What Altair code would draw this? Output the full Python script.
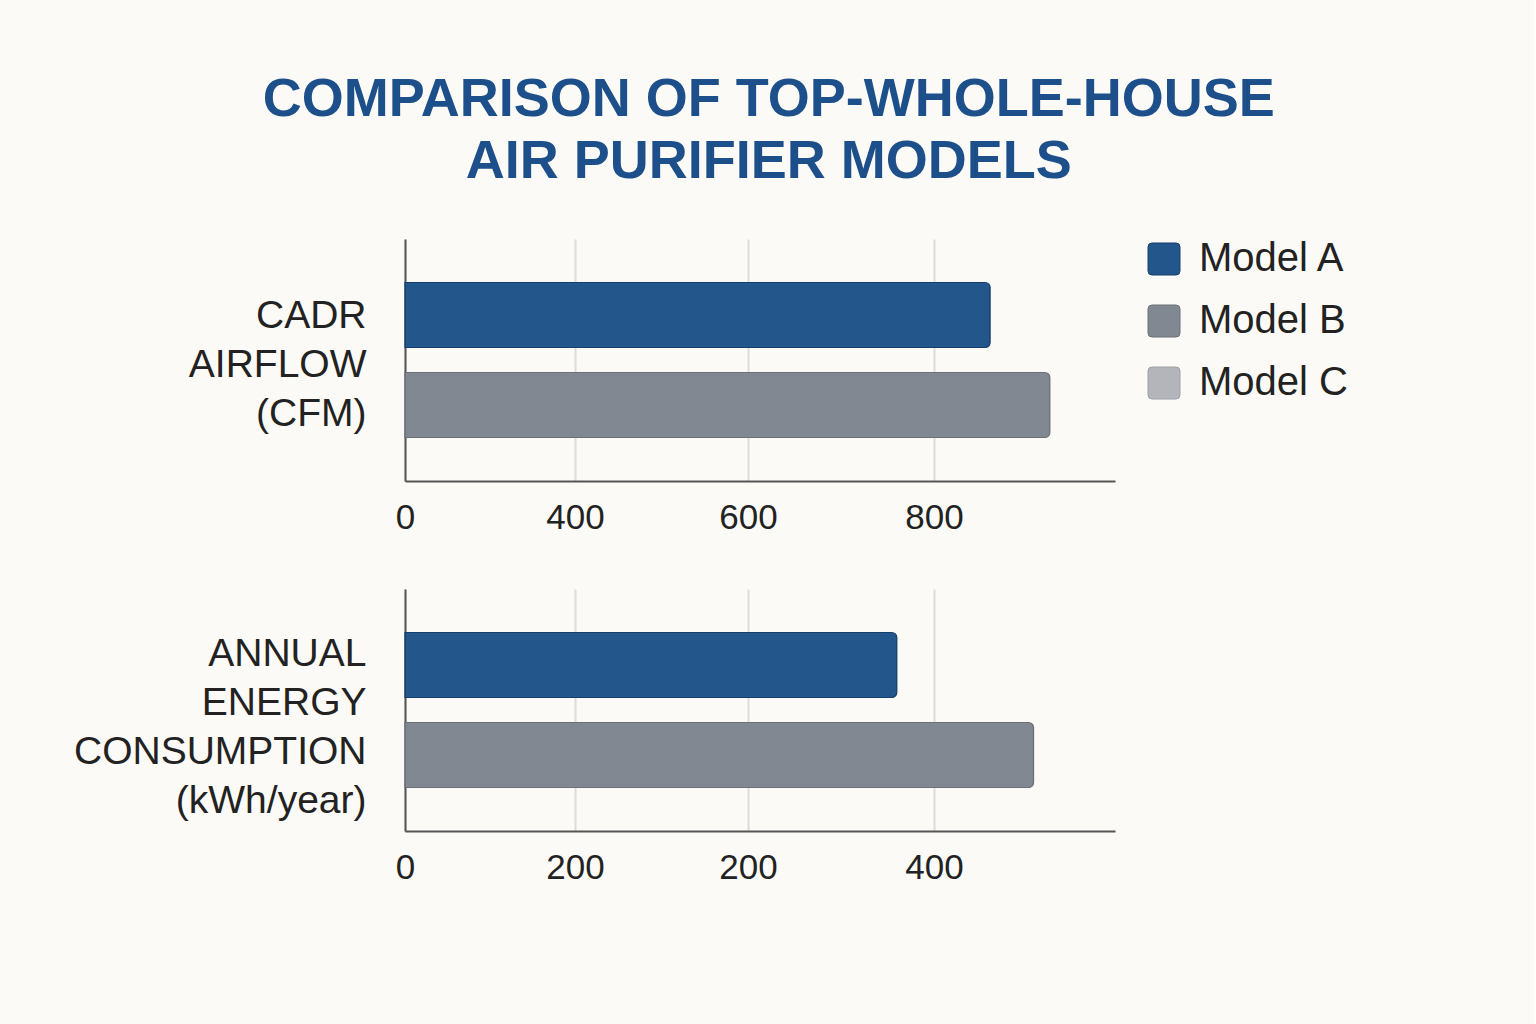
import altair as alt
import pandas as pd

models = ["Model A", "Model B"]
legend_models = ["Model A", "Model B", "Model C"]
cadr_values = [862, 928]
energy_values = [380, 455]

cadr_ticks = [0, 400, 600, 800]
energy_ticks = [0, 200, 300, 400]

fill_colors = ["#23568a", "#828891", "#b3b5bb"]
stroke_colors = ["#163f6e", "#6b7079", "#9ea0a6"]

cadr_df = pd.DataFrame({"model": models, "value": cadr_values})
energy_df = pd.DataFrame({"model": models, "value": energy_values})

FONT = "Liberation Sans"
TEXT = "#222222"
ROUNDED = "M-1,-0.75Q-1,-1,-0.75,-1L0.75,-1Q1,-1,1,-0.75L1,0.75Q1,1,0.75,1L-0.75,1Q-1,1,-1,0.75Z"

color_enc = alt.Color(
    "model:N",
    scale=alt.Scale(domain=legend_models, range=fill_colors),
    legend=alt.Legend(title=None),
)
stroke_enc = alt.Stroke(
    "model:N",
    scale=alt.Scale(domain=legend_models, range=stroke_colors),
    legend=alt.Legend(title=None),
)


def panel(df, domain, rng, ticks, label_expr, ytitle, title_y):
    return (
        alt.Chart(df)
        .mark_bar(cornerRadiusEnd=5, strokeWidth=1.2)
        .encode(
            x=alt.X(
                "value:Q",
                scale=alt.Scale(domain=domain, range=rng, nice=False),
                axis=alt.Axis(
                    values=ticks,
                    title=None,
                    labelExpr=label_expr,
                    grid=True,
                    gridColor="#dcdcdc",
                    gridWidth=2,
                    ticks=False,
                    domainColor="#555555",
                    domainWidth=2,
                    labelFontSize=35,
                    labelFont=FONT,
                    labelColor=TEXT,
                    labelPadding=19,
                    labelFlush=False,
                ),
            ),
            y=alt.Y(
                "model:N",
                scale=alt.Scale(domain=models, paddingInner=0.278, paddingOuter=0.483),
                axis=alt.Axis(
                    labels=False,
                    ticks=False,
                    grid=False,
                    domainColor="#555555",
                    domainWidth=2,
                    title=ytitle,
                    titleAngle=0,
                    titleAlign="right",
                    titleBaseline="middle",
                    titleX=-39,
                    titleY=title_y,
                    titleFont=FONT,
                    titleFontSize=39,
                    titleFontWeight="normal",
                    titleColor=TEXT,
                    titleLineHeight=49,
                ),
            ),
            color=color_enc,
            stroke=stroke_enc,
        )
        .properties(width=710, height=242)
    )


top = panel(
    cadr_df,
    [0, 400, 600, 800, 1000],
    [0, 170, 343, 529, 710],
    cadr_ticks,
    "datum.label",
    ["CADR", "AIRFLOW", "(CFM)"],
    76,
)
bottom = panel(
    energy_df,
    [0, 200, 300, 400, 500],
    [0, 170, 343, 529, 710],
    energy_ticks,
    "datum.value == 300 ? '200' : datum.label",
    ["ANNUAL", "ENERGY", "CONSUMPTION", "(kWh/year)"],
    64,
)

chart = (
    alt.vconcat(top, bottom, spacing=54)
    .properties(
        title=alt.TitleParams(
            text=["COMPARISON OF TOP-WHOLE-HOUSE", "AIR PURIFIER MODELS"],
            font=FONT,
            fontSize=54,
            fontWeight="bold",
            color="#1d4f8a",
            anchor="middle",
            lineHeight=62,
            offset=50,
            dx=58,
        ),
        background="#fbfaf6",
        padding={"left": 73, "top": 73, "right": 186, "bottom": 139},
    )
    .configure_view(stroke=None)
    .configure_legend(
        orient="right",
        offset=29,
        symbolType=ROUNDED,
        symbolSize=1024,
        symbolStrokeWidth=1,
        labelFont=FONT,
        labelFontSize=40,
        labelColor=TEXT,
        labelOffset=15,
        rowPadding=22,
        labelLimit=400,
    )
)

chart.save("out.html", embed_options={"renderer": "svg", "actions": False})
